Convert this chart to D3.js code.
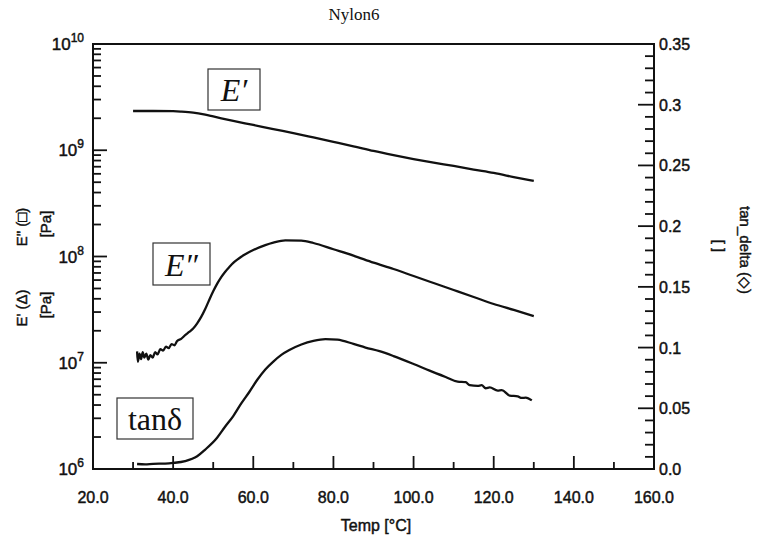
<!DOCTYPE html>
<html>
<head>
<meta charset="utf-8">
<script src="https://cdn.jsdelivr.net/npm/d3@7"></script>
<style>
  body { margin: 0; background: #fff; }
  text { font-family: "Liberation Sans", Arial, sans-serif; fill: #111; }
  .lab { stroke: #111; stroke-width: 0.45; }
</style>
</head>
<body>
<div id="chart"></div>
<script>
// storage modulus E' [Pa]
var tempE1 = [30, 35, 40, 42, 45, 48, 50, 55, 60, 65, 70, 75, 80, 85, 90, 95, 100, 105, 110, 115, 120, 125, 130];
var valE1 = [2.34e9, 2.34e9, 2.33e9, 2.31e9, 2.26e9, 2.16e9, 2.08e9, 1.89e9, 1.73e9, 1.58e9, 1.45e9, 1.32e9, 1.20e9,
             1.09e9, 9.85e8, 9.0e8, 8.27e8, 7.65e8, 7.11e8, 6.58e8, 6.11e8, 5.6e8, 5.14e8];

// loss modulus E'' [Pa]
var tempE2 = [31.0, 31.2, 31.6, 32.0, 32.4, 32.8, 33.3, 33.8, 34.3, 34.9, 35.5, 36.1, 36.8, 37.5, 38.2, 38.9,
              39.6, 40.3, 41, 42, 43, 44, 45, 46, 47, 48, 49, 50, 51, 52, 53, 54, 55, 56, 57, 58, 60, 63, 65, 68,
              72, 75, 80, 85, 90, 95, 100, 105, 110, 115, 120, 125, 130];
var valE2 = [1.28e7, 1.02e7, 1.22e7, 1.08e7, 1.26e7, 1.12e7, 1.22e7, 1.07e7, 1.18e7, 1.12e7, 1.26e7, 1.2e7,
             1.34e7, 1.3e7, 1.42e7, 1.37e7, 1.5e7, 1.46e7, 1.6e7, 1.68e7, 1.82e7, 1.95e7, 2.1e7, 2.35e7, 2.7e7,
             3.2e7, 3.9e7, 4.7e7, 5.55e7, 6.4e7, 7.2e7, 7.95e7, 8.7e7, 9.35e7, 9.95e7, 1.05e8, 1.15e8, 1.28e8,
             1.35e8, 1.42e8, 1.41e8, 1.34e8, 1.17e8, 1.02e8, 8.75e7, 7.63e7, 6.55e7, 5.63e7, 4.84e7, 4.16e7,
             3.57e7, 3.14e7, 2.75e7];

// tan delta []
var tempTd = [31, 33, 35, 38, 40, 43, 46, 48, 50.7, 53, 55, 57, 59, 61, 63, 65, 67, 69, 72, 75, 78, 81, 85, 88,
              91.5, 95, 100, 104, 108, 111, 113, 114, 116, 117, 118, 119, 121, 122, 124, 126, 127, 128, 129.5];
var valTd = [0.0041, 0.0038, 0.0043, 0.0045, 0.005, 0.0065, 0.0105, 0.016, 0.0247, 0.035, 0.0436, 0.054,
             0.0634, 0.0735, 0.082, 0.0885, 0.094, 0.098, 0.1025, 0.1055, 0.107, 0.1065, 0.103, 0.1, 0.097, 0.093,
             0.0865, 0.081, 0.0758, 0.072, 0.0715, 0.069, 0.0684, 0.069, 0.0665, 0.0672, 0.0645, 0.065,
             0.0605, 0.0598, 0.0585, 0.0588, 0.0565];

var xTicks = [20, 40, 60, 80, 100, 120, 140, 160];
var leftTicks = [1e6, 1e7, 1e8, 1e9, 1e10];
var rightTicks = [0, 0.05, 0.1, 0.15, 0.2, 0.25, 0.3, 0.35];
var rightTickLabels = ["0.0", "0.05", "0.1", "0.15", "0.2", "0.25", "0.3", "0.35"];

var W = 757, H = 542;
var pL = 93, pR = 654, pT = 44, pB = 469;

var svg = d3.select("#chart").append("svg")
    .attr("width", W)
    .attr("height", H);

var x = d3.scaleLinear().domain([20, 160]).range([pL, pR]);
var yL = d3.scaleLog().domain([1e6, 1e10]).range([pB, pT]);
var yR = d3.scaleLinear().domain([0, 0.35]).range([pB, pT]);

// frame
svg.append("rect")
    .attr("x", pL).attr("y", pT)
    .attr("width", pR - pL).attr("height", pB - pT)
    .attr("fill", "none").attr("stroke", "#111").attr("stroke-width", 2);

// bottom ticks (inward)
var xMinor = d3.range(30, 160, 20);
svg.selectAll(".xmaj").data(xTicks.slice(1, -1)).enter().append("line")
    .attr("x1", d => x(d)).attr("x2", d => x(d))
    .attr("y1", pB).attr("y2", pB - 13)
    .attr("stroke", "#111").attr("stroke-width", 1.8);
svg.selectAll(".xmin").data(xMinor).enter().append("line")
    .attr("x1", d => x(d)).attr("x2", d => x(d))
    .attr("y1", pB).attr("y2", pB - 7)
    .attr("stroke", "#111").attr("stroke-width", 1.8);
svg.selectAll(".xlab").data(xTicks).enter().append("text")
    .attr("class", "lab")
    .attr("x", d => x(d)).attr("y", 503)
    .attr("text-anchor", "middle").attr("font-size", 16)
    .text(d => d3.format(".1f")(d));

// left log ticks
var lMinor = [];
[1e6, 1e7, 1e8, 1e9].forEach(function(dec) {
  for (var k = 2; k <= 9; k++) lMinor.push(dec * k);
});
svg.selectAll(".lmaj").data(leftTicks.slice(1, -1)).enter().append("line")
    .attr("x1", pL).attr("x2", pL + 14)
    .attr("y1", d => yL(d)).attr("y2", d => yL(d))
    .attr("stroke", "#111").attr("stroke-width", 1.8);
svg.selectAll(".lmin").data(lMinor).enter().append("line")
    .attr("x1", pL).attr("x2", pL + 8)
    .attr("y1", d => yL(d)).attr("y2", d => yL(d))
    .attr("stroke", "#111").attr("stroke-width", 1.8);
var lLab = svg.selectAll(".llab").data(leftTicks).enter().append("text")
    .attr("class", "lab")
    .attr("x", 84).attr("y", d => yL(d) + 6)
    .attr("text-anchor", "end").attr("font-size", 17);
lLab.append("tspan").text("10");
lLab.append("tspan").attr("dy", -8).attr("font-size", 12)
    .text(d => Math.round(Math.log10(d)));

// right ticks
var rMinor = d3.range(0.01, 0.35, 0.01).filter(d => Math.abs(d * 20 - Math.round(d * 20)) > 1e-6);
svg.selectAll(".rmaj").data(rightTicks.slice(1, -1)).enter().append("line")
    .attr("x1", pR).attr("x2", pR - 16)
    .attr("y1", d => yR(d)).attr("y2", d => yR(d))
    .attr("stroke", "#111").attr("stroke-width", 1.8);
svg.selectAll(".rmin").data(rMinor).enter().append("line")
    .attr("x1", pR).attr("x2", pR - 9)
    .attr("y1", d => yR(d)).attr("y2", d => yR(d))
    .attr("stroke", "#111").attr("stroke-width", 1.8);
svg.selectAll(".rlab").data(rightTicks).enter().append("text")
    .attr("class", "lab")
    .attr("x", 659).attr("y", d => yR(d) + 6)
    .attr("font-size", 16)
    .text((d, i) => rightTickLabels[i]);

// curves
function series(ts, vs) { return ts.map((t, i) => [t, vs[i]]); }
var lineL = d3.line().x(d => x(d[0])).y(d => yL(d[1])).curve(d3.curveMonotoneX);
var lineR = d3.line().x(d => x(d[0])).y(d => yR(d[1])).curve(d3.curveMonotoneX);

svg.append("path").attr("d", lineL(series(tempE1, valE1)))
    .attr("fill", "none").attr("stroke", "#111").attr("stroke-width", 2.3);
svg.append("path").attr("d", lineL(series(tempE2, valE2)))
    .attr("fill", "none").attr("stroke", "#111").attr("stroke-width", 2.3);
svg.append("path").attr("d", lineR(series(tempTd, valTd)))
    .attr("fill", "none").attr("stroke", "#111").attr("stroke-width", 2.3);

// annotation boxes
function tag(bx, by, bw, bh, label, italic) {
  svg.append("rect").attr("x", bx).attr("y", by).attr("width", bw).attr("height", bh)
      .attr("fill", "#fff").attr("stroke", "#333").attr("stroke-width", 1.2);
  svg.append("text").attr("x", bx + bw / 2).attr("y", by + bh - 9)
      .attr("text-anchor", "middle")
      .style("font-family", "'Liberation Serif', 'DejaVu Serif', serif")
      .style("font-style", italic ? "italic" : "normal")
      .attr("font-size", 32)
      .text(label);
}
tag(208, 69, 52, 41, "E\u2032", true);
tag(153, 243, 57, 42, "E\u2033", true);
tag(117, 398, 76, 41, "tan\u03b4", false);

// titles
svg.append("text").attr("x", 354).attr("y", 20).attr("text-anchor", "middle")
    .style("font-family", "'Liberation Serif', serif").attr("font-size", 17)
    .text("Nylon6");
svg.append("text").attr("class", "lab").attr("x", 376).attr("y", 531).attr("text-anchor", "middle")
    .attr("font-size", 16).text("Temp [\u00b0C]");

function vtext(cx, cy, rot, s, size) {
  svg.append("text").attr("class", "lab")
      .attr("transform", "translate(" + cx + "," + cy + ") rotate(" + rot + ")")
      .attr("text-anchor", "middle").attr("dy", "0.35em")
      .attr("font-size", size).text(s);
}
vtext(22, 227, -90, "E\" (\u25a1)", 15);
vtext(46, 224, -90, "[Pa]", 15);
vtext(22, 308, -90, "E' (\u0394)", 15);
vtext(46, 305, -90, "[Pa]", 15);
vtext(745, 250, 90, "tan_delta (\u25c7)", 15);
vtext(719, 246, 90, "[ ]", 15);
</script>
</body>
</html>
